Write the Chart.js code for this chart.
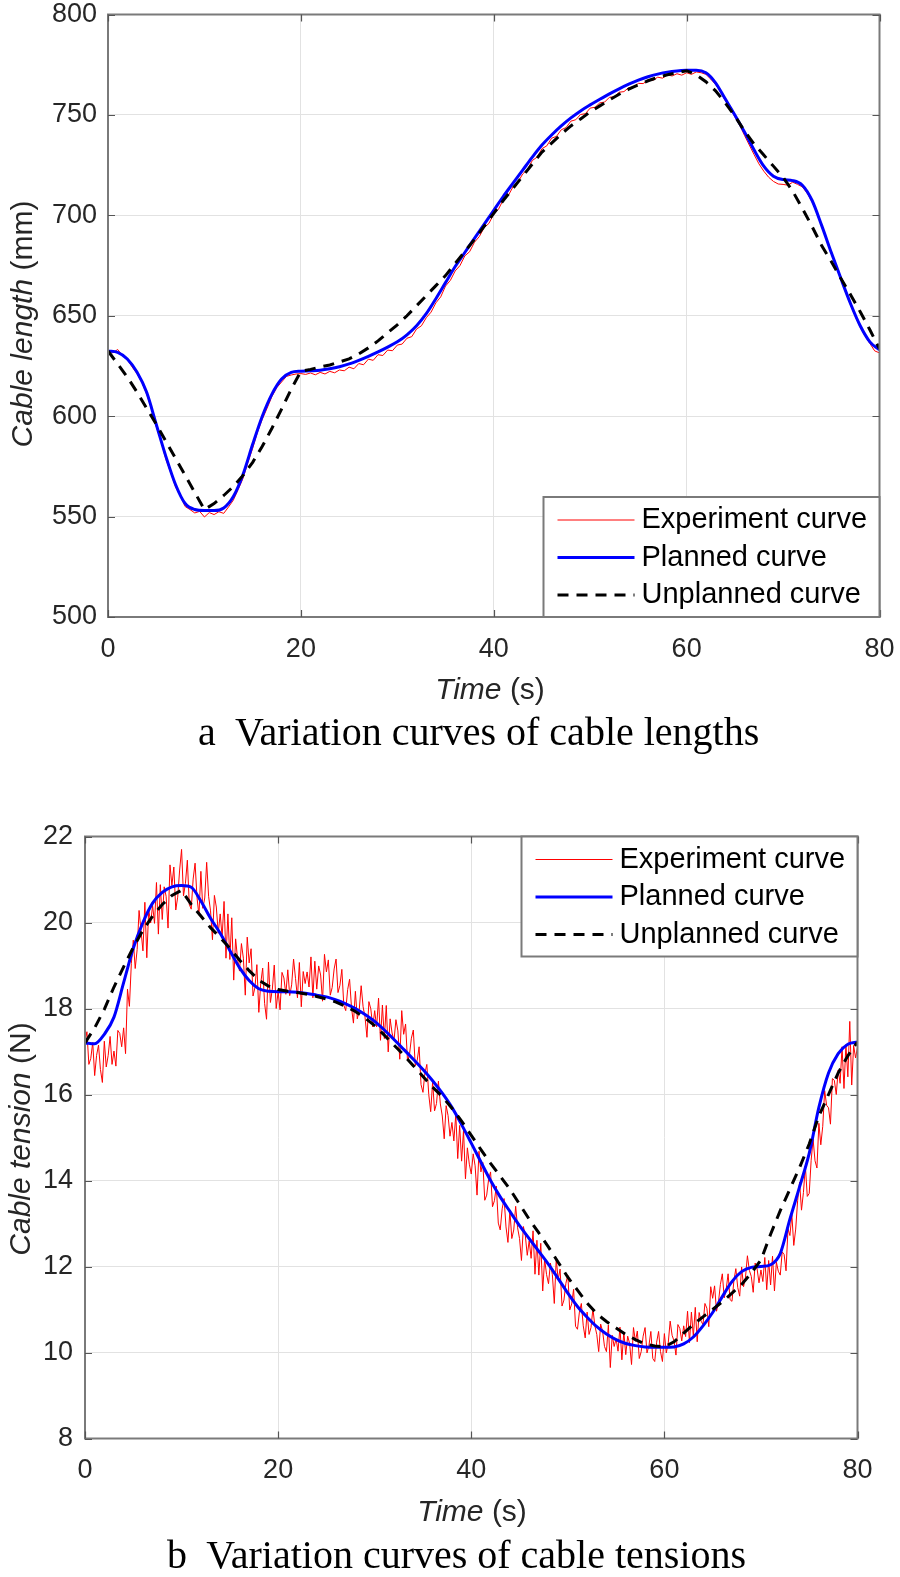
<!DOCTYPE html>
<html>
<head>
<meta charset="utf-8">
<script src="https://cdn.jsdelivr.net/npm/chart.js@4.4.1/dist/chart.umd.min.js"></script>
<style>
  html, body { margin: 0; padding: 0; background: #fff; }
  #page { position: relative; width: 900px; height: 1577px; overflow: hidden; }
  canvas { position: absolute; left: 0; }
  #c1 { top: 0; }
  #c2 { top: 780px; }
  .caption { position: absolute; font-family: 'Liberation Serif', 'Times New Roman', serif;
             font-size: 40px; line-height: 40px; color: #000; white-space: pre; }
  #capA { left: 198px; top: 712px; }
  #capB { left: 167px; top: 1535px; }
</style>
</head>
<body>
<div id="page">
  <canvas id="c1" width="900" height="710"></canvas>
  <canvas id="c2" width="900" height="760"></canvas>
  <div class="caption" id="capA">a  Variation curves of cable lengths</div>
  <div class="caption" id="capB">b  Variation curves of cable tensions</div>
</div>
<script>
// ---- data ----
// smooth curves sampled every 1 s (0..80)
const lengthPlanned = [
  632.5, 631.8, 628.5, 622, 612, 596, 580, 566, 556.5, 553.5,
  553, 553, 554.3, 560, 571, 586, 600, 611, 618.5, 621.8,
  622.4, 622.6, 622.9, 623.6, 624.6, 626, 627.8, 629.8, 632, 634.4,
  637, 640.5, 645, 651, 658.5, 666.5, 674.5, 681.5, 688.5, 695.5,
  702.5, 709.5, 716, 722.5, 729, 735, 740, 744.5, 748.5, 752,
  755, 757.8, 760.5, 763, 765.3, 767.3, 769, 770.3, 771.3, 771.9,
  772.2, 772.3, 771, 766, 758, 750, 741.5, 732.5, 724.5, 719.5,
  717.8, 717.3, 715, 707.5, 695, 681.5, 668.5, 656, 645, 637,
  633
];
const lengthUnplanned = [
  632.5, 626, 619.5, 612, 604, 596, 587.5, 579, 570.5, 562,
  553.5, 556.5, 560.5, 565, 570.5, 577, 585, 594, 603.5, 613.5,
  622.3, 623.3, 624.5, 625.5, 627, 628.5, 631, 634, 637.5, 641.5,
  645.5, 650, 655, 660, 665, 670, 676, 682, 688, 694.5,
  701, 707.5, 713.5, 719.5, 725.5, 731.5, 736, 740.5, 744.5, 748,
  751.5, 754.5, 757.5, 760.3, 762.8, 765, 767, 768.7, 770, 771,
  772, 770, 766.5, 762, 756, 749.5, 742, 735.5, 730, 724.5,
  719, 712, 703.5, 694.5, 685, 677, 668.5, 660.5, 652, 643,
  633.5
];
// experiment curve of cable length, every 0.5 s
const lengthExperiment = [
  632.8, 631.5, 633.2, 630.3, 628.2, 624.5, 621.2, 617.0, 611.0, 604.0,
  594.8, 587.5, 578.5, 572.0, 564.8, 560.2, 555.0, 553.5, 551.8, 552.6,
  549.8, 552.0, 551.0, 552.4, 551.6, 554.8, 558.2, 563.5, 569.0, 576.8,
  584.0, 592.0, 598.5, 604.0, 609.8, 614.2, 617.0, 619.8, 620.5, 621.0,
  621.2, 620.8, 621.5, 620.6, 621.8, 621.0, 622.3, 621.6, 623.0, 622.6,
  624.4, 623.6, 626.2, 625.6, 628.4, 627.8, 630.6, 630.2, 632.9, 632.6,
  635.4, 635.9, 638.8, 639.6, 643.4, 645.0, 649.0, 651.8, 656.4, 659.4,
  664.8, 667.6, 672.3, 675.0, 679.8, 681.9, 686.6, 689.4, 693.8, 696.0,
  700.6, 703.1, 707.9, 709.8, 714.2, 716.4, 720.6, 722.9, 727.3, 729.0,
  733.2, 734.6, 738.4, 739.3, 742.6, 743.7, 746.9, 747.6, 750.2, 750.6,
  753.4, 753.8, 756.0, 756.4, 758.8, 759.0, 761.3, 761.6, 763.6, 763.8,
  765.7, 765.6, 767.4, 767.2, 768.8, 768.3, 769.9, 769.4, 770.5, 769.8,
  771.0, 770.2, 771.4, 771.0, 770.2, 767.8, 765.2, 761.5, 757.2, 753.5,
  749.0, 745.0, 739.8, 735.0, 730.2, 725.6, 722.0, 719.0, 716.9, 715.6,
  715.4, 715.0, 716.5, 715.4, 714.2, 711.0, 706.8, 701.5, 694.5, 688.0,
  681.0, 674.5, 668.0, 661.5, 655.3, 649.5, 644.2, 640.0, 636.2, 632.5,
  631.5
];

const tensionPlanned = [
  17.2, 17.18, 17.4, 17.8, 18.6, 19.4, 20.0, 20.45, 20.7, 20.83,
  20.86, 20.82, 20.5, 20.1, 19.75, 19.35, 18.95, 18.65, 18.46, 18.4,
  18.39, 18.39, 18.38, 18.35, 18.31, 18.27, 18.2, 18.11, 18.0, 17.86,
  17.7, 17.5, 17.28, 17.05, 16.82, 16.58, 16.32, 16.03, 15.7, 15.3,
  14.87, 14.43, 14.0, 13.62, 13.28, 12.95, 12.65, 12.35, 12.05, 11.72,
  11.38, 11.07, 10.82, 10.6, 10.43, 10.3, 10.21, 10.16, 10.13, 10.12,
  10.12, 10.13, 10.2, 10.36, 10.62, 10.93, 11.3, 11.65, 11.88, 11.98,
  12.0, 12.04, 12.3, 13.1, 13.85, 14.63, 15.7, 16.5, 16.95, 17.17,
  17.22
];
const tensionUnplanned = [
  17.2, 17.55, 17.98, 18.5, 18.97, 19.42, 19.82, 20.15, 20.42, 20.63,
  20.75, 20.42, 20.15, 19.88, 19.65, 19.4, 19.13, 18.88, 18.66, 18.52,
  18.44, 18.4, 18.37, 18.33, 18.28, 18.22, 18.15, 18.05, 17.93, 17.78,
  17.6, 17.38, 17.15, 16.92, 16.67, 16.42, 16.17, 15.95, 15.68, 15.38,
  15.05, 14.72, 14.4, 14.1, 13.8, 13.45, 13.1, 12.78, 12.45, 12.1,
  11.75, 11.45, 11.15, 10.9, 10.72, 10.57, 10.42, 10.3, 10.2, 10.15,
  10.13, 10.25, 10.45, 10.65, 10.83, 11.0, 11.18, 11.38, 11.58, 11.85,
  12.15, 12.75, 13.3, 13.8, 14.3, 14.85, 15.5, 16.0, 16.5, 16.9,
  17.22
];
// experiment curve of cable tension, every 0.2 s (one row per second)
const tensionExperiment = [
  17.23, 17.46, 16.70, 16.84, 17.21,
  16.44, 16.91, 17.15, 16.58, 16.28,
  17.24, 16.64, 16.91, 17.35, 16.70,
  17.01, 16.66, 17.49, 17.42, 17.11,
  17.55, 16.95, 18.45, 18.05, 19.05,
  19.59, 18.93, 19.37, 20.28, 19.81,
  19.34, 20.47, 19.18, 20.30, 19.99,
  20.40, 19.98, 20.93, 19.73, 20.88,
  20.07, 20.83, 20.61, 19.87, 21.34,
  20.86, 21.29, 20.29, 20.59, 21.22,
  21.70, 20.62, 20.91, 21.45, 20.42,
  20.31, 21.01, 21.38, 20.58, 20.17,
  21.19, 20.33, 20.57, 21.40, 20.61,
  20.27, 19.60, 20.63, 20.36, 19.75,
  20.20, 19.66, 20.49, 19.17, 20.20,
  19.14, 20.11, 18.66, 19.62, 19.15,
  18.87, 19.51, 19.17, 18.31, 19.66,
  19.06, 19.39, 18.29, 18.49, 19.02,
  17.91, 18.59, 18.94, 18.12, 17.75,
  19.08, 18.14, 18.45, 19.01, 18.00,
  18.40, 17.97, 18.84, 18.71, 18.33,
  18.90, 18.30, 18.55, 19.15, 18.70,
  18.25, 19.07, 18.04, 18.86, 18.58,
  18.85, 18.50, 19.20, 18.25, 19.10,
  18.45, 18.99, 18.78, 18.17, 19.26,
  18.85, 19.13, 18.31, 18.49, 18.92,
  19.15, 18.37, 18.54, 18.91, 18.08,
  17.95, 18.44, 18.68, 18.02, 17.66,
  18.40, 17.76, 17.97, 18.53, 18.04,
  17.80, 17.33, 18.16, 17.99, 17.57,
  17.95, 17.57, 18.24, 17.26, 18.08,
  17.30, 18.07, 16.99, 17.76, 17.43,
  17.25, 17.74, 17.48, 16.82, 17.95,
  17.40, 17.64, 16.78, 16.92, 17.31,
  17.50, 16.67, 16.79, 17.11, 16.23,
  16.05, 16.50, 16.70, 16.00, 15.60,
  16.30, 15.62, 15.79, 16.31, 15.78,
  15.50, 14.97, 15.74, 15.51, 15.03,
  15.35, 14.92, 15.54, 14.51, 15.28,
  14.45, 15.17, 14.04, 14.76, 14.38,
  14.15, 14.62, 14.34, 13.66, 14.68,
  14.20, 14.42, 13.54, 13.66, 14.03,
  14.20, 13.39, 13.53, 13.87, 13.01,
  12.85, 13.34, 13.58, 12.92, 12.56,
  13.30, 12.65, 12.85, 13.40, 12.90,
  12.65, 12.14, 12.93, 12.72, 12.26,
  12.60, 12.19, 12.83, 11.82, 12.61,
  11.80, 12.54, 11.43, 12.17, 11.81,
  11.60, 12.08, 11.81, 11.14, 12.17,
  11.70, 11.94, 11.08, 11.22, 11.61,
  11.80, 10.99, 11.13, 11.47, 10.61,
  10.54, 10.94, 11.14, 10.62, 10.34,
  10.94, 10.42, 10.58, 11.02, 10.62,
  10.42, 10.02, 10.66, 10.50, 10.14,
  10.02, 10.64, 9.65, 10.40, 10.14,
  10.32, 10.03, 10.59, 9.83, 10.48,
  9.95, 10.38, 10.21, 9.72, 10.58,
  10.26, 10.50, 9.86, 10.02, 10.38,
  10.58, 9.99, 10.16, 10.49, 9.86,
  9.79, 10.24, 10.49, 10.02, 9.79,
  10.44, 9.99, 10.22, 10.73, 10.40,
  10.27, 9.94, 10.65, 10.56, 10.27,
  10.62, 10.37, 10.96, 10.23, 10.94,
  10.37, 11.05, 10.25, 10.93, 10.73,
  10.65, 11.14, 11.03, 10.60, 11.53,
  11.26, 11.55, 10.96, 11.17, 11.58,
  11.83, 11.27, 11.47, 11.83, 11.23,
  11.19, 11.67, 11.95, 11.51, 11.31,
  11.99, 11.53, 11.75, 12.25, 11.91,
  11.77, 11.40, 12.08, 11.95, 11.62,
  11.92, 11.65, 12.21, 11.46, 12.14,
  11.57, 12.24, 11.43, 12.10, 11.89,
  11.80, 12.34, 12.28, 11.90, 12.88,
  12.72, 13.21, 12.49, 12.87, 13.53,
  13.96, 13.31, 13.72, 14.34, 13.63,
  13.70, 14.47, 14.96, 14.46, 14.29,
  15.33, 14.83, 15.26, 16.09, 15.75,
  15.69, 15.31, 16.37, 16.33, 16.00,
  16.57, 16.26, 17.11, 16.14, 17.16,
  16.41, 17.70, 16.22, 17.14, 16.85,
  17.10
];

const seriesNames = ['Experiment curve', 'Planned curve', 'Unplanned curve'];
const xTicks = [0, 20, 40, 60, 80];
const lengthTicks = [500, 550, 600, 650, 700, 750, 800];
const tensionTicks = [8, 10, 12, 14, 16, 18, 20, 22];

// sampling grids (time axis)
const grid = (n, step) => Array.from({ length: n }, (_, i) => +(i * step).toFixed(2));
const toXY = (ys, step) => { const ts = grid(ys.length, step); return ys.map((v, i) => ({ x: ts[i], y: v })); };

const SANS = "'Liberation Sans', Arial, Helvetica, sans-serif";
const AXIS = '#7a7a7a';

// frame, inward ticks, legend box and axis titles drawn over the plot
const decor = {
  id: 'decor',
  afterDraw(chart, args, o) {
    const { ctx, chartArea: a, scales: { x, y } } = chart;
    ctx.save();
    // box
    ctx.strokeStyle = AXIS;
    ctx.lineWidth = 2;
    ctx.strokeRect(a.left, a.top, a.right - a.left, a.bottom - a.top);
    // inward ticks on all four sides
    ctx.lineWidth = 1.2;
    ctx.strokeStyle = '#555';
    ctx.beginPath();
    x.ticks.forEach(t => {
      const px = Math.round(x.getPixelForValue(t.value)) + 0.5;
      ctx.moveTo(px, a.bottom); ctx.lineTo(px, a.bottom - 7);
      ctx.moveTo(px, a.top); ctx.lineTo(px, a.top + 7);
    });
    y.ticks.forEach(t => {
      const py = Math.round(y.getPixelForValue(t.value)) + 0.5;
      ctx.moveTo(a.left, py); ctx.lineTo(a.left + 7, py);
      ctx.moveTo(a.right, py); ctx.lineTo(a.right - 7, py);
    });
    ctx.stroke();

    // legend
    const w = 336, h = 120;
    const bx = a.right - w;
    const by = o.legendCorner === 'bottom' ? a.bottom - h : a.top;
    ctx.fillStyle = '#fff';
    ctx.fillRect(bx, by, w, h);
    ctx.strokeStyle = AXIS;
    ctx.lineWidth = 2;
    ctx.strokeRect(bx, by, w, h);
    chart.data.datasets.forEach((ds, i) => {
      const yy = by + 23 + i * 37.5;
      ctx.strokeStyle = ds.borderColor;
      ctx.lineWidth = ds.borderWidth;
      ctx.setLineDash(ds.borderDash || []);
      ctx.beginPath();
      ctx.moveTo(bx + 14, yy); ctx.lineTo(bx + 91, yy);
      ctx.stroke();
      ctx.setLineDash([]);
      ctx.fillStyle = '#000';
      ctx.font = '29px ' + SANS;
      ctx.textBaseline = 'middle';
      ctx.textAlign = 'left';
      ctx.fillText(ds.label, bx + 98, yy);
    });

    // axis titles: italic word(s) + plain unit
    const title = (ital, plain, cx, cy, rot) => {
      ctx.save();
      ctx.translate(cx, cy);
      if (rot) ctx.rotate(-Math.PI / 2);
      ctx.fillStyle = '#262626';
      ctx.textBaseline = 'middle';
      ctx.textAlign = 'left';
      const fi = 'italic 30px ' + SANS, fn = '30px ' + SANS;
      ctx.font = fi; const w1 = ctx.measureText(ital).width;
      ctx.font = fn; const w2 = ctx.measureText(plain).width;
      const x0 = -(w1 + w2) / 2;
      ctx.font = fi; ctx.fillText(ital, x0, 0);
      ctx.font = fn; ctx.fillText(plain, x0 + w1, 0);
      ctx.restore();
    };
    title('Time', ' (s)', o.xTitle[0], o.xTitle[1], false);
    title(o.yItal, o.yPlain, o.yTitle[0], o.yTitle[1], true);
    ctx.restore();
  }
};

function makeChart(id, p) {
  const H = document.getElementById(id).height;
  return new Chart(document.getElementById(id), {
    type: 'line',
    data: {
      datasets: [
        { label: seriesNames[0], data: toXY(p.exp, p.expStep), borderColor: '#ff0000',
          borderWidth: 1, tension: 0, order: 2 },
        { label: seriesNames[1], data: toXY(p.planned, 1), borderColor: '#0000ff',
          borderWidth: 3, cubicInterpolationMode: 'monotone', order: 1 },
        { label: seriesNames[2], data: toXY(p.unplanned, 1), borderColor: '#000000',
          borderWidth: 3, borderDash: [11, 8], tension: 0, order: 0 }
      ]
    },
    options: {
      responsive: false,
      animation: false,
      events: [],
      elements: { point: { radius: 0 } },
      layout: { padding: { left: 0, top: p.area.top, right: 900 - p.area.right, bottom: 0 } },
      plugins: {
        legend: { display: false },
        tooltip: { enabled: false },
        decor: p.decor
      },
      scales: {
        x: {
          type: 'linear', min: 0, max: 80,
          afterBuildTicks: s => { s.ticks = xTicks.map(v => ({ value: v })); },
          ticks: { color: '#262626', font: { family: SANS, size: 27 }, padding: p.xPad, maxRotation: 0 },
          grid: { color: '#e2e2e2', lineWidth: 1, drawTicks: false },
          border: { display: false },
          afterFit: s => { s.height = H - p.area.bottom; s.paddingLeft = 0; s.paddingRight = 0; }
        },
        y: {
          type: 'linear', min: p.yTicks[0], max: p.yTicks[p.yTicks.length - 1],
          afterBuildTicks: s => { s.ticks = p.yTicks.map(v => ({ value: v })); },
          ticks: { color: '#262626', font: { family: SANS, size: 27 }, padding: p.yPad },
          grid: { color: '#e2e2e2', lineWidth: 1, drawTicks: false },
          border: { display: false },
          afterFit: s => { s.width = p.area.left; s.paddingTop = 0; s.paddingBottom = 0; }
        }
      }
    },
    plugins: [decor]
  });
}

makeChart('c1', {
  exp: lengthExperiment, expStep: 0.5,
  planned: lengthPlanned, unplanned: lengthUnplanned,
  yTicks: lengthTicks,
  area: { left: 108, top: 14.5, right: 879.5, bottom: 617 },
  xPad: 16, yPad: 11,
  decor: { legendCorner: 'bottom', xTitle: [490, 691], yTitle: [24, 324],
           yItal: 'Cable length', yPlain: ' (mm)' }
});

makeChart('c2', {
  exp: tensionExperiment, expStep: 0.2,
  planned: tensionPlanned, unplanned: tensionUnplanned,
  yTicks: tensionTicks,
  area: { left: 85, top: 56.5, right: 857.5, bottom: 658.5 },
  xPad: 16, yPad: 12,
  decor: { legendCorner: 'top', xTitle: [472, 733], yTitle: [22, 359],
           yItal: 'Cable tension', yPlain: ' (N)' }
});
</script>
</body>
</html>
